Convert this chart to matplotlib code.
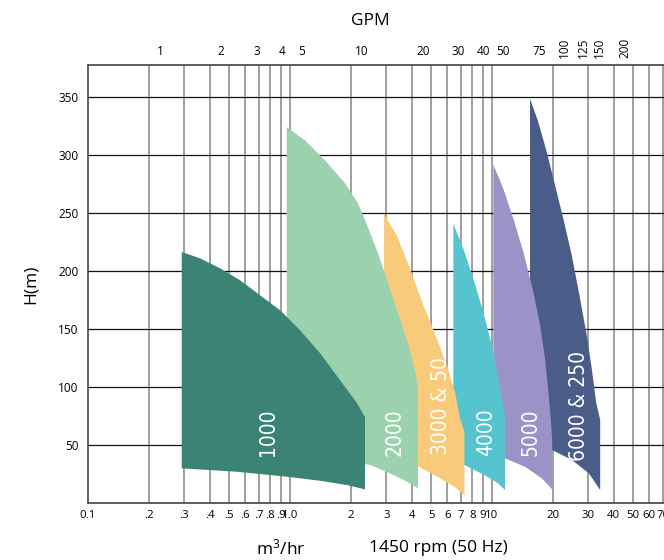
import matplotlib
matplotlib.use("Agg")
import matplotlib.pyplot as plt
from matplotlib import font_manager as fm

# ---------------- data ----------------
x_ticks = [0.1, 0.2, 0.3, 0.4, 0.5, 0.6, 0.7, 0.8, 0.9, 1.0,
           2, 3, 4, 5, 6, 7, 8, 9, 10, 20, 30, 40, 50, 60, 70]
x_labels = ["0.1", ".2", ".3", ".4", ".5", ".6", ".7", ".8", ".9", "1.0",
            "2", "3", "4", "5", "6", "7", "8", "9", "10",
            "20", "30", "40", "50", "60", "70"]
y_ticks = [50, 100, 150, 200, 250, 300, 350]
gpm_ticks = [1, 2, 3, 4, 5, 10, 20, 30, 40, 50, 75, 100, 125, 150, 200]
GPM_TO_M3H = 0.2271

series_names = ["6000 & 250", "5000", "4000", "3000 & 50", "2000", "1000"]
series_colors = ["#4a5d89", "#9b93c7", "#56c4cf", "#f9ca7a", "#9bd1ac", "#3b8375"]

# top (max head) curves: flow m3/hr, head m
top_q = {
    "1000": [0.291, 0.358, 0.450, 0.566, 0.710, 0.892, 1.121, 1.408, 1.768, 2.146, 2.35],
    "2000": [0.963, 1.187, 1.490, 1.872, 2.171, 2.433, 2.727, 3.056, 3.424, 3.838, 4.157, 4.30],
    "3000 & 50": [2.92, 3.375, 3.928, 4.571, 5.325, 5.968, 6.558, 6.943, 7.3],
    "4000": [6.433, 7.209, 8.08, 9.05, 9.97, 10.75, 11.37, 11.6],
    "5000": [10.15, 11.37, 12.75, 14.29, 16.02, 17.29, 18.30, 19.00, 19.53, 19.85],
    "6000 & 250": [15.42, 16.95, 18.66, 20.51, 22.54, 24.81, 27.27, 29.43, 31.16, 32.73, 34.3],
}
top_h = {
    "1000": [216.6, 211.2, 202.6, 192.2, 179.3, 166.4, 149.1, 129.3, 106.0, 86.2, 74.1],
    "2000": [324.4, 312.9, 295.7, 275.9, 258.6, 237.9, 215.5, 189.7, 163.8, 137.9, 114.7, 100.0],
    "3000 & 50": [249.7, 231.0, 202.3, 170.7, 142.0, 119.0, 96.0, 73.0, 61.0],
    "4000": [241.1, 219.6, 193.7, 164.9, 136.2, 107.5, 84.5, 75.9],
    "5000": [292.0, 271.3, 245.4, 216.7, 182.2, 153.5, 124.7, 96.0, 73.0, 54.3],
    "6000 & 250": [348.9, 328.7, 302.9, 274.1, 245.4, 213.8, 176.5, 144.8, 116.1, 87.3, 71.6],
}
# bottom (min head) curves: flow m3/hr, head m
bot_q = {
    "1000": [0.291, 0.545, 0.963, 1.408, 1.909, 2.35],
    "2000": [0.963, 2.489, 3.127, 3.794, 4.30],
    "3000 & 50": [2.92, 4.342, 5.36, 6.50, 7.3],
    "4000": [6.433, 7.3, 9.18, 10.71, 11.6],
    "5000": [10.15, 11.6, 14.55, 17.62, 19.85],
    "6000 & 250": [15.42, 19.85, 24.89, 30.16, 34.3],
}
bot_h = {
    "1000": [29.9, 27.0, 22.7, 19.2, 15.5, 11.8],
    "2000": [45.0, 32.8, 25.6, 18.4, 12.7],
    "3000 & 50": [38.0, 31.3, 22.7, 14.1, 6.9],
    "4000": [38.0, 32.8, 24.1, 17.0, 11.2],
    "5000": [46.0, 38.5, 31.3, 21.3, 11.8],
    "6000 & 250": [55.0, 45.7, 37.1, 25.6, 11.2],
}
label_pos = {
    "1000": (0.778, 61),
    "2000": (3.31, 61),
    "3000 & 50": (5.59, 84),
    "4000": (9.34, 61),
    "5000": (15.6, 61),
    "6000 & 250": (26.9, 84),
}

# ---------------- fonts ----------------
plt.rcParams['font.family'] = ['Open Sans', 'DejaVu Sans']
plt.rcParams['mathtext.default'] = 'regular'


def _find_condensed():
    best = None
    best_score = None
    for f in fm.fontManager.ttflist:
        name = f.name.lower()
        st = str(f.stretch).lower()
        if f.style != 'normal':
            continue
        if not ('narrow' in name or 'condensed' in name or 'condensed' in st):
            continue
        try:
            w = int(f.weight)
        except (TypeError, ValueError):
            w = {'light': 300, 'normal': 400, 'regular': 400, 'book': 400,
                 'medium': 500}.get(str(f.weight).lower(), 700)
        if w > 500:
            continue
        score = 0
        if 'extra' in name or 'extra' in st or 'ultra' in name:
            score += 3
        if 'semi' in name or 'semi' in st:
            score += 1
        score += abs(w - 350) / 100.0
        if best_score is None or score < best_score:
            best, best_score = f, score
    return best


_cf = _find_condensed()
if _cf is not None:
    label_font = fm.FontProperties(fname=_cf.fname, size=15)
else:
    label_font = fm.FontProperties(family=['Open Sans', 'DejaVu Sans'], size=10.5)

# ---------------- figure ----------------
fig = plt.figure(figsize=(6.64, 5.6), dpi=100)
ax = fig.add_axes([88 / 664, 57 / 560, 1 - 88 / 664, (503 - 65) / 560])
ax.set_xscale('log')
ax.set_xlim(0.1, 71)
ax.set_ylim(0, 378)

for xv in x_ticks[1:]:
    ax.axvline(xv, color='#858585', lw=1.1, zorder=1)
for yv in y_ticks:
    ax.axhline(yv, color='#111111', lw=0.9, zorder=1)

for name, col in zip(series_names, series_colors):
    xs = list(top_q[name]) + list(reversed(bot_q[name]))
    ys = list(top_h[name]) + list(reversed(bot_h[name]))
    ax.fill(xs, ys, color=col, lw=0, zorder=2)
    lx, ly = label_pos[name]
    ax.text(lx, ly, name, rotation=90, ha='center', va='center', color='white',
            fontproperties=label_font, zorder=3)

ax.set_xticks(x_ticks)
ax.set_xticklabels(x_labels)
ax.minorticks_off()
ax.set_yticks(y_ticks)
ax.tick_params(axis='x', length=0, pad=5, labelsize=8.2)
ax.tick_params(axis='y', length=0, pad=7, labelsize=8.5)
for s in ax.spines.values():
    s.set_color('#444444')
    s.set_linewidth(1.2)
ax.spines['right'].set_visible(False)

ax.set_ylabel("H(m)", fontsize=12.5, labelpad=14)

ax2 = ax.twiny()
ax2.set_xscale('log')
ax2.set_xlim(ax.get_xlim())
ax2.set_xticks([g * GPM_TO_M3H for g in gpm_ticks])
ax2.set_xticklabels([str(g) for g in gpm_ticks])
ax2.minorticks_off()
ax2.tick_params(axis='x', length=0, pad=5, labelsize=8.5)
for lbl, g in zip(ax2.get_xticklabels(), gpm_ticks):
    if g >= 100:
        lbl.set_rotation(90)
for s in ax2.spines.values():
    s.set_visible(False)

fig.text(370 / 664, 1 - 21 / 560, "GPM", ha='center', va='center', fontsize=12.5)
fig.text(281 / 664, 12 / 560, "m$^3$/hr", ha='center', va='center', fontsize=12.5)
fig.text(438 / 664, 12 / 560, "1450 rpm (50 Hz)", ha='center', va='center', fontsize=12.5)

fig.savefig("out.png", dpi=100)
